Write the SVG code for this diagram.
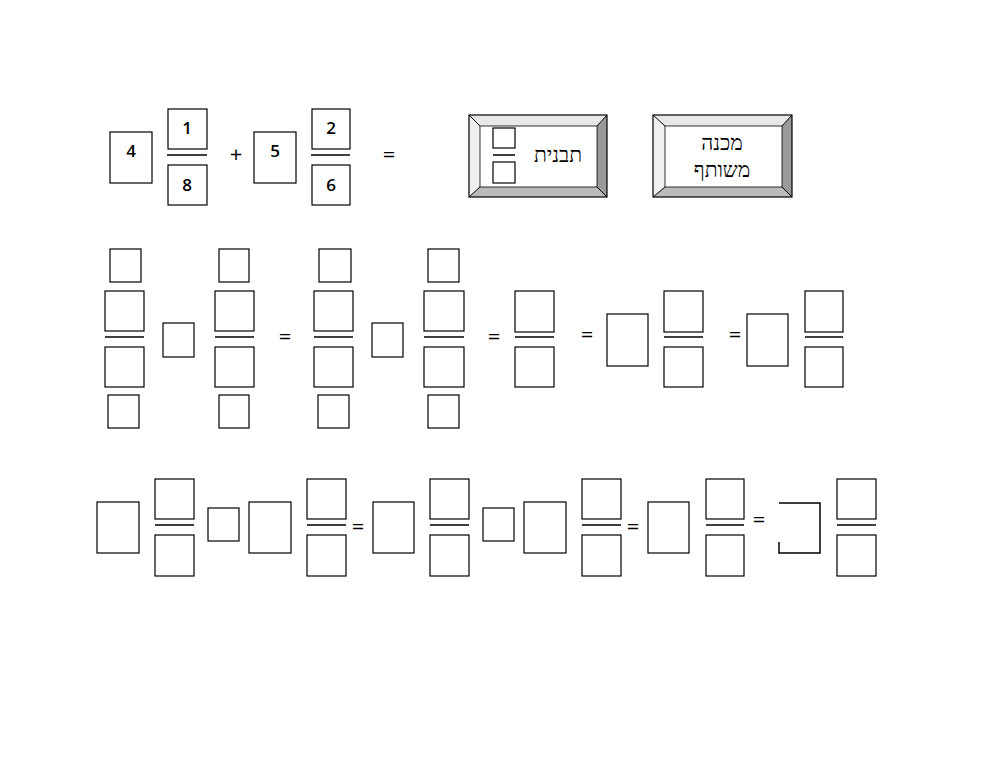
<svg xmlns="http://www.w3.org/2000/svg" width="1000" height="772" viewBox="0 0 1000 772">
<style>
rect.b{fill:#fff;stroke:#000;stroke-width:1.2}
line.f{stroke:#000;stroke-width:1.5}
text.n{font-family:"Open Sans","DejaVu Sans",sans-serif;font-size:17px;font-weight:600;text-anchor:middle}
text.o{font-family:"Open Sans","DejaVu Sans",sans-serif;font-size:22px;text-anchor:middle}
text.h{font-family:"Liberation Serif","DejaVu Sans",serif;font-size:21px;font-weight:500;text-anchor:middle}
</style>
<rect width="1000" height="772" fill="#fff"/>
<g id="row1">
<rect class="b" x="110" y="132" width="42" height="51"/><text class="n" x="131" y="157">4</text>
<rect class="b" x="168" y="109" width="39" height="40"/><text class="n" x="187" y="134">1</text>
<line class="f" x1="167" y1="155" x2="207" y2="155"/>
<rect class="b" x="168" y="165" width="39" height="40"/><text class="n" x="187" y="191">8</text>
<text class="o" x="236" y="162">+</text>
<rect class="b" x="254" y="132" width="42" height="51"/><text class="n" x="275" y="157">5</text>
<rect class="b" x="312" y="109" width="38" height="40"/><text class="n" x="331" y="134">2</text>
<line class="f" x1="311" y1="155" x2="350" y2="155"/>
<rect class="b" x="312" y="165" width="38" height="40"/><text class="n" x="331" y="191">6</text>
<text class="o" x="389" y="162">=</text>
</g>
<g id="btn1">
<polygon points="469,115 607,115 597,126 480,126" fill="#e8e8e8"/>
<polygon points="469,115 480,126 480,187 469,197" fill="#f0f0f0"/>
<polygon points="607,115 607,197 597,187 597,126" fill="#999"/>
<polygon points="469,197 607,197 597,187 480,187" fill="#bbb"/>
<rect x="469" y="115" width="138" height="82" fill="none" stroke="#000" stroke-width="1.2"/>
<rect x="480" y="126" width="117" height="61" fill="#fff" stroke="#000" stroke-width="0.8"/>
<line x1="469" y1="115" x2="480" y2="126" stroke="#000"/><line x1="607" y1="115" x2="597" y2="126" stroke="#000"/>
<line x1="469" y1="197" x2="480" y2="187" stroke="#000"/><line x1="607" y1="197" x2="597" y2="187" stroke="#000"/>
<rect class="b" x="493" y="128" width="22" height="20"/>
<line class="f" x1="493" y1="155" x2="515" y2="155"/>
<rect class="b" x="493" y="162" width="22" height="21"/>
<text class="h" x="558" y="162">תבנית</text>
</g>
<g id="btn2">
<polygon points="653,115 792,115 782,126 665,126" fill="#e8e8e8"/>
<polygon points="653,115 665,126 665,187 653,197" fill="#f0f0f0"/>
<polygon points="792,115 792,197 782,187 782,126" fill="#999"/>
<polygon points="653,197 792,197 782,187 665,187" fill="#bbb"/>
<rect x="653" y="115" width="139" height="82" fill="none" stroke="#000" stroke-width="1.2"/>
<rect x="665" y="126" width="117" height="61" fill="#fff" stroke="#000" stroke-width="0.8"/>
<line x1="653" y1="115" x2="665" y2="126" stroke="#000"/><line x1="792" y1="115" x2="782" y2="126" stroke="#000"/>
<line x1="653" y1="197" x2="665" y2="187" stroke="#000"/><line x1="792" y1="197" x2="782" y2="187" stroke="#000"/>
<text class="h" x="722" y="150">מכנה</text>
<text class="h" x="722" y="177">משותף</text>
</g>
<g id="row2">
<rect class="b" x="110" y="249" width="31" height="33"/>
<rect class="b" x="105" y="291" width="39" height="40"/><line class="f" x1="105" y1="337" x2="144" y2="337"/><rect class="b" x="105" y="347" width="39" height="40"/>
<rect class="b" x="108" y="395" width="31" height="33"/>
<rect class="b" x="163" y="323" width="31" height="34"/>
<rect class="b" x="219" y="249" width="30" height="33"/>
<rect class="b" x="215" y="291" width="39" height="40"/><line class="f" x1="215" y1="337" x2="254" y2="337"/><rect class="b" x="215" y="347" width="39" height="40"/>
<rect class="b" x="219" y="395" width="30" height="33"/>
<text class="o" x="285" y="344">=</text>
<rect class="b" x="319" y="249" width="32" height="33"/>
<rect class="b" x="314" y="291" width="39" height="40"/><line class="f" x1="314" y1="337" x2="353" y2="337"/><rect class="b" x="314" y="347" width="39" height="40"/>
<rect class="b" x="318" y="395" width="31" height="33"/>
<rect class="b" x="372" y="323" width="31" height="34"/>
<rect class="b" x="428" y="249" width="31" height="33"/>
<rect class="b" x="424" y="291" width="40" height="40"/><line class="f" x1="424" y1="337" x2="464" y2="337"/><rect class="b" x="424" y="347" width="40" height="40"/>
<rect class="b" x="428" y="395" width="31" height="33"/>
<text class="o" x="494" y="344">=</text>
<rect class="b" x="515" y="291" width="39" height="41"/><line class="f" x1="515" y1="337" x2="554" y2="337"/><rect class="b" x="515" y="347" width="39" height="40"/>
<text class="o" x="587" y="342">=</text>
<rect class="b" x="607" y="314" width="41" height="52"/>
<rect class="b" x="664" y="291" width="39" height="41"/><line class="f" x1="664" y1="337" x2="703" y2="337"/><rect class="b" x="664" y="347" width="39" height="40"/>
<text class="o" x="735" y="342">=</text>
<rect class="b" x="747" y="314" width="41" height="52"/>
<rect class="b" x="805" y="291" width="38" height="41"/><line class="f" x1="805" y1="337" x2="843" y2="337"/><rect class="b" x="805" y="347" width="38" height="40"/>
</g>
<g id="row3">
<rect class="b" x="97" y="502" width="42" height="51"/>
<rect class="b" x="155" y="479" width="39" height="40"/><line class="f" x1="155" y1="525" x2="194" y2="525"/><rect class="b" x="155" y="535" width="39" height="41"/>
<rect class="b" x="208" y="508" width="31" height="33"/>
<rect class="b" x="249" y="502" width="42" height="51"/>
<rect class="b" x="307" y="479" width="39" height="40"/><line class="f" x1="307" y1="525" x2="346" y2="525"/><rect class="b" x="307" y="535" width="39" height="41"/>
<text class="o" x="358" y="534">=</text>
<rect class="b" x="373" y="502" width="41" height="51"/>
<rect class="b" x="430" y="479" width="39" height="40"/><line class="f" x1="430" y1="525" x2="469" y2="525"/><rect class="b" x="430" y="535" width="39" height="41"/>
<rect class="b" x="483" y="508" width="31" height="33"/>
<rect class="b" x="524" y="502" width="42" height="51"/>
<rect class="b" x="582" y="479" width="39" height="40"/><line class="f" x1="582" y1="525" x2="621" y2="525"/><rect class="b" x="582" y="535" width="39" height="41"/>
<text class="o" x="633" y="534">=</text>
<rect class="b" x="648" y="502" width="41" height="51"/>
<rect class="b" x="706" y="479" width="38" height="40"/><line class="f" x1="706" y1="525" x2="744" y2="525"/><rect class="b" x="706" y="535" width="38" height="41"/>
<text class="o" x="759" y="527">=</text>
<path d="M779,503 H820 V553 H779 V542" fill="none" stroke="#000" stroke-width="1.5"/>
<rect class="b" x="837" y="479" width="39" height="40"/><line class="f" x1="837" y1="525" x2="876" y2="525"/><rect class="b" x="837" y="535" width="39" height="41"/>
</g>
</svg>
